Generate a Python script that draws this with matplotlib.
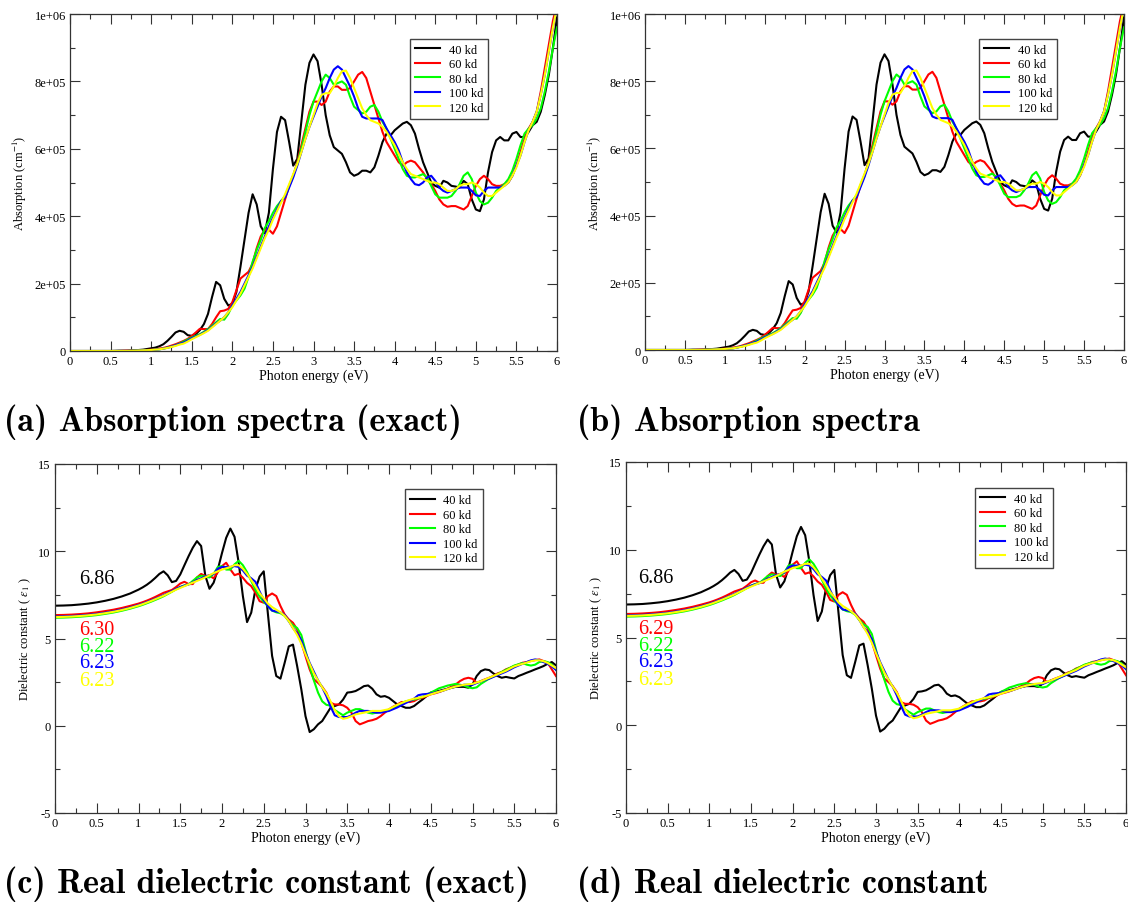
import numpy as np
import matplotlib
matplotlib.use('Agg')
import matplotlib.pyplot as plt
from matplotlib.ticker import MultipleLocator, FixedLocator, FuncFormatter

plt.rcParams['font.family'] = ['Liberation Serif', 'DejaVu Serif']
plt.rcParams['mathtext.fontset'] = 'stix'
plt.rcParams['axes.unicode_minus'] = False

# --- photon energy grid (eV): 0..0.9 in 0.1 steps, 1.0..6.0 in 0.05 steps
energy = np.round(np.concatenate([np.arange(0, 1.0, 0.1), np.arange(1.0, 6.0001, 0.05)]), 2)

labels = ['40 kd', '60 kd', '80 kd', '100 kd', '120 kd']
colors = ['#000000', '#ff0000', '#00ff00', '#0000ff', '#ffff00']

# --- absorption (units of 1e5 cm^-1)
abs_40 = [0, 0, 0, 0, 0, 0, 0.01, 0.01, 0.02, 0.04,
          0.08, 0.10, 0.14, 0.20, 0.30, 0.42, 0.55, 0.60, 0.57, 0.47,
          0.45, 0.50, 0.62, 0.80, 1.10, 1.60, 2.05, 1.95, 1.55, 1.35,
          1.40, 1.75, 2.50, 3.30, 4.10, 4.65, 4.35, 3.70, 3.50, 4.10,
          5.40, 6.50, 6.95, 6.85, 6.20, 5.50, 5.70, 6.80, 7.90, 8.55,
          8.80, 8.60, 7.90, 7.00, 6.40, 6.05, 5.95, 5.85, 5.60, 5.30,
          5.20, 5.25, 5.35, 5.35, 5.30, 5.45, 5.80, 6.20, 6.45, 6.40,
          6.55, 6.65, 6.75, 6.80, 6.70, 6.45, 6.00, 5.60, 5.30, 5.00,
          4.90, 4.85, 5.05, 5.00, 4.90, 4.88, 4.85, 5.05, 4.95, 4.50,
          4.20, 4.15, 4.50, 5.30, 5.90, 6.25, 6.35, 6.25, 6.25, 6.45,
          6.50, 6.35, 6.35, 6.50, 6.70, 6.80, 7.10, 7.60, 8.20, 9.00,
          9.90]
abs_60 = [0, 0, 0, 0, 0, 0, 0, 0.01, 0.01, 0.02,
          0.04, 0.05, 0.07, 0.09, 0.12, 0.16, 0.20, 0.25, 0.30, 0.36,
          0.45, 0.55, 0.66, 0.65, 0.65, 0.80, 1.00, 1.18, 1.20, 1.25,
          1.45, 1.80, 2.15, 2.25, 2.35, 2.60, 3.05, 3.40, 3.60, 3.60,
          3.48, 3.70, 4.10, 4.50, 4.90, 5.20, 5.60, 6.10, 6.60, 7.10,
          7.40, 7.40, 7.30, 7.40, 7.70, 7.85, 7.85, 7.75, 7.75, 7.80,
          8.00, 8.20, 8.28, 8.10, 7.70, 7.30, 6.90, 6.50, 6.20, 6.00,
          5.80, 5.60, 5.50, 5.60, 5.65, 5.60, 5.45, 5.30, 5.10, 4.95,
          4.75, 4.50, 4.35, 4.28, 4.30, 4.30, 4.25, 4.20, 4.30, 4.60,
          4.90, 5.10, 5.20, 5.10, 4.95, 4.90, 4.90, 4.95, 5.00, 5.20,
          5.50, 5.90, 6.30, 6.60, 6.80, 7.10, 7.70, 8.40, 9.10, 9.80,
          10.30]
abs_80 = [0, 0, 0, 0, 0, 0, 0, 0, 0.01, 0.02,
          0.03, 0.04, 0.05, 0.07, 0.10, 0.13, 0.17, 0.22, 0.28, 0.34,
          0.40, 0.45, 0.50, 0.57, 0.65, 0.75, 0.85, 0.95, 0.93, 1.10,
          1.35, 1.50, 1.65, 1.85, 2.20, 2.65, 3.00, 3.30, 3.65, 3.85,
          4.10, 4.30, 4.45, 4.60, 4.90, 5.20, 5.55, 6.00, 6.50, 7.00,
          7.40, 7.70, 8.00, 8.20, 8.10, 7.90, 7.95, 8.00, 7.90, 7.55,
          7.25, 7.15, 7.05, 7.10, 7.25, 7.30, 7.10, 6.80, 6.60, 6.30,
          6.00, 5.70, 5.40, 5.20, 5.15, 5.15, 5.20, 5.25, 5.15, 4.90,
          4.65, 4.55, 4.55, 4.55, 4.60, 4.75, 4.95, 5.20, 5.30, 5.10,
          4.70, 4.45, 4.35, 4.40, 4.55, 4.75, 4.85, 4.95, 5.10, 5.35,
          5.70, 6.10, 6.45, 6.60, 6.70, 6.90, 7.20, 7.70, 8.30, 9.00,
          9.60]
abs_100 = [0, 0, 0, 0, 0, 0, 0, 0, 0.01, 0.02,
           0.03, 0.04, 0.05, 0.07, 0.10, 0.13, 0.17, 0.21, 0.25, 0.31,
           0.38, 0.43, 0.48, 0.55, 0.62, 0.72, 0.82, 0.90, 1.00, 1.15,
           1.35, 1.55, 1.75, 2.00, 2.25, 2.50, 2.80, 3.10, 3.40, 3.70,
           3.95, 4.20, 4.45, 4.55, 4.85, 5.15, 5.50, 5.90, 6.30, 6.65,
           6.95, 7.25, 7.55, 7.80, 8.10, 8.35, 8.45, 8.35, 8.10, 7.85,
           7.55, 7.20, 6.95, 6.90, 6.90, 6.90, 6.90, 6.85, 6.60, 6.40,
           6.20, 5.95, 5.60, 5.30, 5.10, 4.95, 4.92, 5.00, 5.15, 5.20,
           5.05, 4.85, 4.75, 4.70, 4.75, 4.80, 4.85, 4.85, 4.85, 4.75,
           4.62, 4.60, 4.75, 4.85, 4.85, 4.85, 4.85, 4.90, 5.00, 5.20,
           5.50, 5.80, 6.20, 6.55, 6.80, 7.10, 7.60, 8.20, 8.90, 9.60,
           10.20]
abs_120 = [0, 0, 0, 0, 0, 0, 0, 0, 0.01, 0.02,
           0.03, 0.04, 0.05, 0.07, 0.09, 0.12, 0.15, 0.19, 0.22, 0.28,
           0.35, 0.41, 0.47, 0.53, 0.60, 0.70, 0.80, 0.90, 1.00, 1.15,
           1.30, 1.50, 1.70, 1.95, 2.20, 2.45, 2.75, 3.05, 3.35, 3.60,
           3.90, 4.15, 4.40, 4.65, 4.95, 5.25, 5.55, 5.90, 6.30, 6.65,
           7.00, 7.35, 7.60, 7.65, 7.65, 7.85, 8.10, 8.30, 8.32, 8.10,
           7.80, 7.50, 7.20, 7.00, 6.85, 6.80, 6.75, 6.65, 6.50, 6.30,
           6.10, 5.85, 5.60, 5.40, 5.25, 5.20, 5.15, 5.10, 5.05, 5.00,
           5.00, 4.95, 4.85, 4.75, 4.75, 4.80, 4.90, 4.95, 4.95, 5.00,
           4.95, 4.85, 4.70, 4.60, 4.60, 4.70, 4.80, 4.90, 5.00, 5.20,
           5.45, 5.80, 6.20, 6.55, 6.80, 7.10, 7.60, 8.20, 8.90, 9.60,
           10.20]

# --- real dielectric constant eps_1
eps_40 = [6.88, 6.89, 6.91, 6.95, 7.00, 7.07, 7.16, 7.27, 7.41, 7.58,
          7.80, 7.93, 8.08, 8.26, 8.47, 8.70, 8.85, 8.62, 8.23, 8.30,
          8.67, 9.20, 9.72, 10.20, 10.58, 10.30, 8.60, 7.85, 8.20, 8.96,
          9.90, 10.77, 11.30, 10.83, 9.34, 7.43, 5.94, 6.48, 7.81, 8.55,
          8.85, 6.40, 4.00, 2.85, 2.70, 3.60, 4.55, 4.65, 3.42, 2.08,
          0.55, -0.36, -0.20, 0.08, 0.27, 0.65, 1.03, 1.13, 1.22, 1.50,
          1.90, 1.93, 1.99, 2.12, 2.27, 2.31, 2.12, 1.80, 1.66, 1.70,
          1.60, 1.41, 1.22, 1.13, 1.03, 1.03, 1.13, 1.32, 1.50, 1.70,
          1.90, 1.95, 2.00, 2.06, 2.12, 2.18, 2.23, 2.23, 2.23, 2.18,
          2.37, 2.85, 3.13, 3.23, 3.19, 3.00, 2.85, 2.75, 2.80, 2.75,
          2.71, 2.85, 2.94, 3.04, 3.13, 3.23, 3.32, 3.42, 3.55, 3.65,
          3.46]
eps_60 = [6.34, 6.35, 6.37, 6.40, 6.44, 6.50, 6.57, 6.65, 6.75, 6.87,
          7.00, 7.08, 7.17, 7.27, 7.38, 7.50, 7.62, 7.70, 7.78, 7.95,
          8.15, 8.25, 8.12, 8.12, 8.50, 8.70, 8.58, 8.60, 8.45, 8.80,
          9.15, 9.34, 8.96, 8.63, 8.71, 8.48, 8.19, 8.00, 7.62, 7.14,
          7.05, 7.43, 7.58, 7.43, 6.86, 6.38, 6.09, 5.90, 5.52, 4.76,
          3.99, 3.23, 2.66, 2.46, 2.23, 1.89, 1.32, 1.22, 1.22, 1.17,
          1.03, 0.75, 0.27, 0.08, 0.17, 0.27, 0.32, 0.40, 0.55, 0.75,
          0.94, 1.09, 1.22, 1.36, 1.36, 1.36, 1.41, 1.55, 1.60, 1.70,
          1.80, 1.86, 1.93, 2.02, 2.12, 2.25, 2.37, 2.56, 2.69, 2.75,
          2.69, 2.46, 2.56, 2.66, 2.75, 2.85, 3.00, 3.08, 3.23, 3.32,
          3.42, 3.51, 3.61, 3.65, 3.71, 3.76, 3.80, 3.71, 3.61, 3.23,
          2.85]
eps_80 = [6.19, 6.20, 6.22, 6.25, 6.29, 6.34, 6.41, 6.49, 6.59, 6.71,
          6.85, 6.93, 7.02, 7.11, 7.21, 7.31, 7.42, 7.55, 7.68, 7.82,
          7.95, 8.05, 8.10, 8.30, 8.50, 8.60, 8.55, 8.50, 8.70, 9.10,
          9.15, 8.95, 8.95, 9.25, 9.45, 9.20, 8.80, 8.30, 7.80, 7.40,
          7.10, 6.85, 6.60, 6.50, 6.45, 6.30, 6.00, 5.75, 5.60, 5.20,
          4.30, 3.40, 2.60, 1.90, 1.40, 1.20, 1.15, 0.90, 0.75, 0.60,
          0.75, 0.85, 0.95, 0.95, 0.85, 0.75, 0.70, 0.75, 0.80, 0.85,
          0.90, 1.02, 1.15, 1.28, 1.40, 1.45, 1.50, 1.58, 1.65, 1.78,
          1.90, 2.02, 2.15, 2.22, 2.30, 2.35, 2.40, 2.35, 2.30, 2.20,
          2.15, 2.20, 2.40, 2.55, 2.70, 2.82, 2.95, 3.08, 3.20, 3.32,
          3.45, 3.52, 3.60, 3.50, 3.45, 3.50, 3.65, 3.70, 3.65, 3.50,
          3.20]
eps_100 = [6.26, 6.27, 6.29, 6.32, 6.36, 6.41, 6.48, 6.56, 6.66, 6.78,
           6.92, 7.00, 7.09, 7.18, 7.28, 7.38, 7.48, 7.60, 7.72, 7.84,
           7.95, 8.03, 8.10, 8.22, 8.35, 8.45, 8.55, 8.62, 8.70, 9.00,
           9.10, 9.10, 9.10, 9.15, 9.10, 8.90, 8.60, 8.45, 8.25, 7.70,
           7.20, 6.85, 6.60, 6.55, 6.50, 6.35, 6.00, 5.60, 5.30, 4.90,
           4.20, 3.60, 3.10, 2.60, 2.20, 1.70, 1.10, 0.60, 0.50, 0.50,
           0.50, 0.60, 0.75, 0.85, 0.85, 0.85, 0.80, 0.75, 0.75, 0.80,
           0.85, 0.95, 1.05, 1.18, 1.30, 1.42, 1.55, 1.75, 1.80, 1.82,
           1.85, 1.90, 1.95, 2.02, 2.10, 2.18, 2.25, 2.30, 2.35, 2.35,
           2.35, 2.45, 2.55, 2.62, 2.70, 2.80, 2.90, 3.00, 3.10, 3.22,
           3.35, 3.45, 3.55, 3.65, 3.75, 3.80, 3.75, 3.65, 3.55, 3.40,
           3.20]
eps_120 = [6.23, 6.24, 6.26, 6.29, 6.33, 6.38, 6.45, 6.53, 6.63, 6.75,
           6.89, 6.97, 7.06, 7.15, 7.25, 7.35, 7.45, 7.57, 7.68, 7.80,
           7.90, 8.00, 8.10, 8.20, 8.30, 8.40, 8.50, 8.62, 8.75, 8.85,
           8.95, 9.02, 9.10, 9.20, 9.20, 9.00, 8.70, 8.35, 8.00, 7.60,
           7.30, 7.00, 6.80, 6.65, 6.50, 6.30, 6.00, 5.60, 5.20, 4.70,
           4.10, 3.55, 3.00, 2.60, 2.20, 1.85, 1.40, 0.90, 0.55, 0.40,
           0.45, 0.55, 0.65, 0.70, 0.75, 0.80, 0.85, 0.85, 0.85, 0.90,
           0.95, 1.08, 1.20, 1.30, 1.40, 1.48, 1.55, 1.60, 1.65, 1.72,
           1.80, 1.88, 1.95, 2.02, 2.10, 2.18, 2.25, 2.30, 2.35, 2.38,
           2.40, 2.48, 2.55, 2.65, 2.75, 2.85, 2.95, 3.05, 3.15, 3.28,
           3.40, 3.48, 3.55, 3.62, 3.70, 3.75, 3.75, 3.70, 3.60, 3.45,
           3.30]

# static dielectric constants shown on panels (c) and (d)
eps0_exact = ['6.86', '6.30', '6.22', '6.23', '6.23']
eps0_approx = ['6.86', '6.29', '6.22', '6.23', '6.23']

absorption = [abs_40, abs_60, abs_80, abs_100, abs_120]
dielectric = [eps_40, eps_60, eps_80, eps_100, eps_120]

fig = plt.figure(figsize=(11.28, 9.03), dpi=100)
W, H = 1128.0, 903.0


def add_ax(left, top, right, bottom):
    return fig.add_axes([left / W, 1 - bottom / H, (right - left) / W, (bottom - top) / H])


def style(ax):
    ax.set_xlim(0, 6)
    ax.xaxis.set_major_locator(MultipleLocator(0.5))
    ax.xaxis.set_minor_locator(MultipleLocator(0.25))
    ax.xaxis.set_major_formatter(FuncFormatter(lambda v, p: f'{v:g}'))
    ax.tick_params(which='both', direction='in', top=True, right=True,
                   labelsize=9, width=0.8, color='#333333', pad=3)
    ax.tick_params(which='major', length=7)
    ax.tick_params(which='minor', length=3.5)
    for s in ax.spines.values():
        s.set_linewidth(0.9)
        s.set_color('#333333')
    ax.set_xlabel('Photon energy (eV)', fontsize=10, labelpad=1)
    ax.legend(loc='upper left', bbox_to_anchor=(0.698, 0.927), fontsize=9,
              frameon=True, fancybox=False, edgecolor='#444444', framealpha=1,
              handlelength=2.0, handletextpad=0.7, labelspacing=0.2,
              borderpad=0.4, borderaxespad=0)


def absorption_panel(ax):
    for y, c, lab in zip(absorption, colors, labels):
        ax.plot(energy, np.array(y) * 1e5, color=c, lw=1.5, label=lab)
    ax.set_ylim(0, 1e6)
    ax.yaxis.set_major_locator(FixedLocator([0, 2e5, 4e5, 6e5, 8e5, 1e6]))
    ax.yaxis.set_minor_locator(MultipleLocator(1e5))
    ax.yaxis.set_major_formatter(FuncFormatter(
        lambda v, p: '0' if v == 0 else f'{v:.0e}'))
    ax.set_ylabel(r'Absorption (cm$^{-1}$)', fontsize=9, labelpad=4)
    style(ax)


def dielectric_panel(ax, values, x0):
    for y, c, lab in zip(dielectric, colors, labels):
        ax.plot(energy, y, color=c, lw=1.5, label=lab)
    ax.set_ylim(-5, 15)
    ax.yaxis.set_major_locator(MultipleLocator(5))
    ax.yaxis.set_minor_locator(MultipleLocator(2.5))
    ax.set_ylabel(r'Dielectric constant ( $\varepsilon_1$ )', fontsize=9, labelpad=4)
    ypos = [8.41, 5.54, 4.57, 3.65, 2.62]
    for txt, c, yy in zip(values, colors, ypos):
        ax.text(x0, yy, txt, color=c, fontsize=14.5, va='center', ha='left')
    style(ax)


ax_a = add_ax(70, 15, 557, 352)
absorption_panel(ax_a)
ax_b = add_ax(645, 15, 1124, 351)
absorption_panel(ax_b)
ax_c = add_ax(55, 465, 556, 814)
dielectric_panel(ax_c, eps0_exact, 0.29)
ax_d = add_ax(626, 463, 1126, 814)
dielectric_panel(ax_d, eps0_approx, 0.15)

cap = dict(fontsize=24.5, family=['cmb10', 'DejaVu Serif'], va='center', ha='left')
fig.text(4 / W, 1 - 422 / H, '(a) Absorption spectra (exact)', **cap)
fig.text(577 / W, 1 - 422 / H, '(b) Absorption spectra', **cap)
fig.text(4 / W, 1 - 884 / H, '(c) Real dielectric constant (exact)', **cap)
fig.text(577 / W, 1 - 884 / H, '(d) Real dielectric constant', **cap)

fig.savefig('out.png', dpi=100)
